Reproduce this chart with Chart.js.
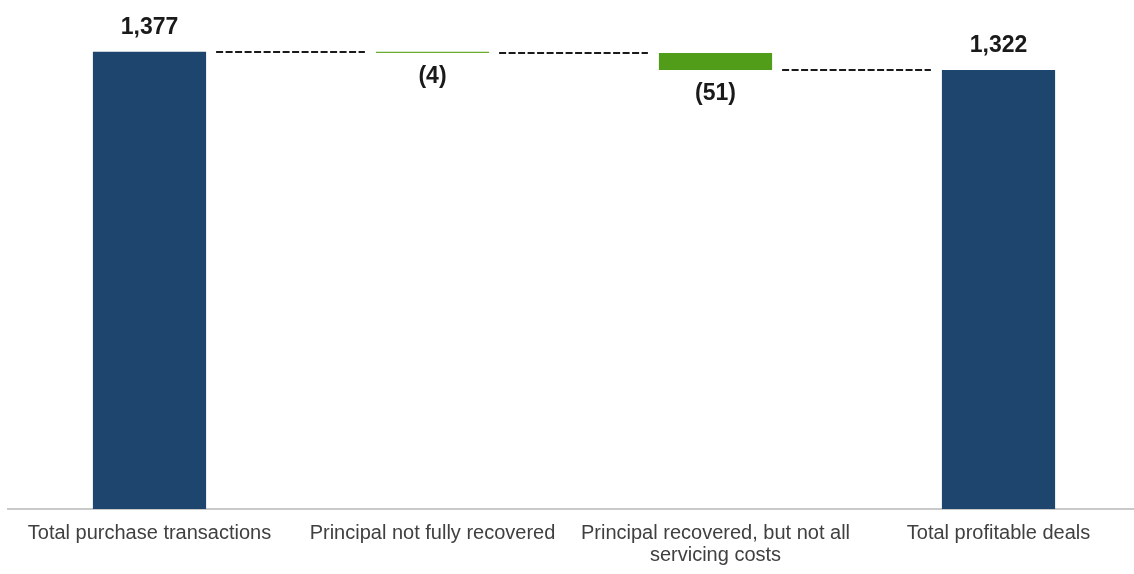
<!DOCTYPE html>
<html>
<head>
<meta charset="utf-8">
<script src="https://cdn.jsdelivr.net/npm/chart.js@4/dist/chart.umd.min.js"></script>
<style>
  html, body { margin: 0; padding: 0; background: #fff; overflow: hidden; }
  #wrap { width: 1142px; height: 574px; }
</style>
</head>
<body>
<div id="wrap"><canvas id="canvas"></canvas></div>
<script>
var categories = [
  'Total purchase transactions',
  'Principal not fully recovered',
  ['Principal recovered, but not all', 'servicing costs'],
  'Total profitable deals'
];
var steps = [1377, -4, -51, 1322];
var isTotal = [true, false, false, true];
var valueLabels = ['1,377', '(4)', '(51)', '1,322'];
var barColors = ['#1d456d', '#6aaa2e', '#519c18', '#1d456d'];

// floating ranges + running level after each bar
var ranges = [], levels = [];
var running = 0;
for (var i = 0; i < steps.length; i++) {
  if (isTotal[i]) {
    ranges.push([0, steps[i]]);
    running = steps[i];
  } else {
    ranges.push([running + steps[i], running]);
    running += steps[i];
  }
  levels.push(running);
}

var waterfallPlugin = {
  id: 'waterfall',
  afterDatasetsDraw: function(chart) {
    var ctx = chart.ctx;
    var meta = chart.getDatasetMeta(0);
    var y = chart.scales.y;
    ctx.save();
    // dashed connectors
    ctx.strokeStyle = '#1a1a1a';
    ctx.lineWidth = 2;
    ctx.setLineDash([7, 2.5]);
    for (var i = 0; i < meta.data.length - 1; i++) {
      var a = meta.data[i], b = meta.data[i + 1];
      var py = Math.round(y.getPixelForValue(levels[i]));
      ctx.beginPath();
      ctx.moveTo(a.x + a.width / 2 + 10, py);
      ctx.lineTo(b.x - b.width / 2 - 11, py);
      ctx.stroke();
    }
    ctx.setLineDash([]);
    // value labels
    ctx.fillStyle = '#1a1a1a';
    ctx.font = 'bold 23px "Liberation Sans", Arial, sans-serif';
    ctx.textAlign = 'center';
    for (var j = 0; j < meta.data.length; j++) {
      var bar = meta.data[j];
      if (isTotal[j]) {
        ctx.textBaseline = 'alphabetic';
        ctx.fillText(valueLabels[j], bar.x, y.getPixelForValue(ranges[j][1]) - 18);
      } else {
        ctx.textBaseline = 'top';
        ctx.fillText(valueLabels[j], bar.x, y.getPixelForValue(ranges[j][0]) + 12);
      }
    }
    ctx.restore();
  }
};

window.onload = function() {
  var ctx = document.getElementById('canvas').getContext('2d');
  window.myBar = new Chart(ctx, {
    type: 'bar',
    data: {
      labels: categories,
      datasets: [{
        data: ranges,
        backgroundColor: barColors,
        borderWidth: 0,
        barPercentage: 1,
        categoryPercentage: 0.4
      }]
    },
    options: {
      responsive: true,
      maintainAspectRatio: false,
      animation: false,
      layout: { padding: { left: 8, right: 2, top: 0, bottom: 0 } },
      plugins: {
        legend: { display: false },
        tooltip: { enabled: false }
      },
      scales: {
        x: {
          grid: { display: false, drawTicks: false },
          border: { display: true, color: '#c9c9c9', width: 2 },
          ticks: {
            color: '#404040',
            padding: 13,
            maxRotation: 0,
            autoSkip: false,
            font: { family: '"Liberation Sans", Arial, sans-serif', size: 20, lineHeight: 1.1 }
          },
          afterFit: function(s) { s.height = 65; }
        },
        y: {
          display: false,
          min: 0,
          max: 1533
        }
      }
    },
    plugins: [waterfallPlugin]
  });
};
</script>
</body>
</html>
